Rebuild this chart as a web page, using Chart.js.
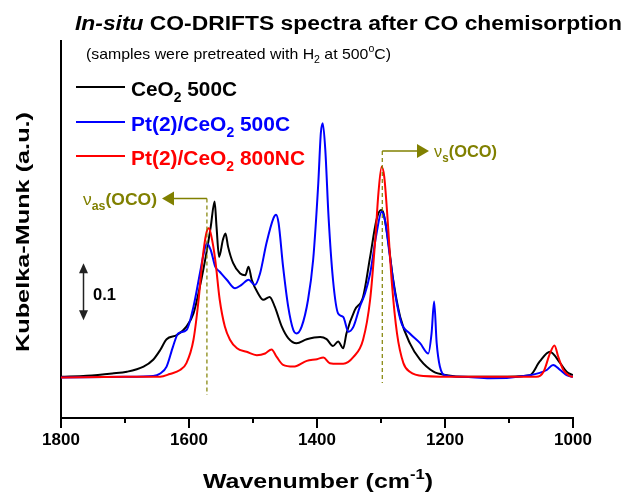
<!DOCTYPE html>
<html>
<head>
<meta charset="utf-8">
<script src="https://cdn.jsdelivr.net/npm/chart.js@4.4.0/dist/chart.umd.min.js"></script>
<style>
html,body{margin:0;padding:0;background:#fff;}
#wrap{width:638px;height:492px;}
</style>
</head>
<body>
<div id="wrap"><canvas id="c" width="638" height="492"></canvas></div>
<script>
// ---- data (wavenumber in cm-1, Kubelka-Munk in a.u.) ----
const wnBlack = [1800,1760,1720,1697,1671,1656,1645,1635,1619,1604,1593,1583,1572,1566,1560,1557,1553,1547,1543,1539,1531,1520,1512,1507,1502,1492,1484,1474,1466,1455,1445,1432,1416,1395,1385,1375,1367,1359,1354,1341,1328,1317,1307,1300,1296,1289,1281,1270,1255,1239,1218,1197,1171,1119,1067,1052,1036,1020,1010,1000];
const kmBlack = [0.072,0.074,0.078,0.081,0.090,0.102,0.119,0.138,0.145,0.160,0.183,0.230,0.294,0.335,0.379,0.335,0.282,0.312,0.323,0.300,0.271,0.253,0.250,0.265,0.242,0.218,0.207,0.212,0.195,0.160,0.140,0.131,0.138,0.142,0.138,0.126,0.134,0.122,0.148,0.189,0.212,0.282,0.347,0.364,0.358,0.312,0.242,0.177,0.131,0.102,0.081,0.075,0.072,0.072,0.075,0.099,0.116,0.096,0.081,0.075];

const wnBlue = [1800,1700,1656,1645,1635,1625,1617,1604,1593,1583,1577,1572,1566,1559,1552,1541,1528,1518,1507,1497,1489,1479,1468,1464,1460,1453,1445,1437,1432,1424,1414,1406,1398,1394,1391,1387,1382,1375,1367,1359,1351,1343,1333,1325,1317,1307,1299,1294,1286,1278,1268,1255,1239,1226,1221,1217,1213,1208,1200,1171,1130,1067,1052,1041,1031,1020,1010,1000];
const kmBlue = [0.071,0.072,0.0735,0.078,0.090,0.125,0.148,0.154,0.195,0.253,0.288,0.306,0.294,0.265,0.256,0.242,0.227,0.233,0.242,0.233,0.253,0.306,0.350,0.356,0.341,0.265,0.195,0.154,0.148,0.160,0.207,0.277,0.411,0.499,0.516,0.469,0.353,0.242,0.183,0.177,0.151,0.160,0.195,0.218,0.253,0.323,0.361,0.347,0.282,0.218,0.166,0.148,0.131,0.113,0.148,0.204,0.131,0.090,0.075,0.072,0.0695,0.075,0.079,0.084,0.093,0.084,0.075,0.072];

const wnRed = [1800,1700,1645,1630,1614,1604,1593,1585,1579,1573,1569,1565,1559,1552,1544,1536,1525,1510,1494,1481,1471,1463,1453,1437,1416,1400,1390,1380,1367,1359,1343,1328,1317,1309,1304,1299,1295,1290,1283,1275,1265,1255,1234,1171,1057,1046,1036,1029,1023,1015,1005,1000];
const kmRed = [0.071,0.072,0.0723,0.077,0.084,0.096,0.137,0.207,0.277,0.323,0.332,0.318,0.277,0.207,0.160,0.137,0.122,0.116,0.110,0.113,0.120,0.107,0.093,0.090,0.100,0.103,0.106,0.096,0.095,0.095,0.107,0.137,0.207,0.312,0.394,0.440,0.423,0.353,0.236,0.148,0.096,0.081,0.0735,0.072,0.072,0.081,0.113,0.127,0.107,0.084,0.0735,0.072];

const seriesNames = ['CeO2 500C','Pt(2)/CeO2 500C','Pt(2)/CeO2 800NC'];
const xTickLabels = [1800,1600,1400,1200,1000];
const xMinorTicks = [1700,1500,1300,1100];
const bandCenters = [1572,1298]; // nu_as(OCO), nu_s(OCO)

const FF = "'Liberation Sans', Arial, Helvetica, sans-serif";
const OLIVE = '#808000';

function pts(w,k){return w.map((x,i)=>({x:x,y:k[i]}));}

function drawRich(ctx, segs, x, y, opt){
  opt = opt||{};
  ctx.save();
  ctx.textBaseline='alphabetic';
  ctx.textAlign='left';
  let nat=0;
  segs.forEach(s=>{ctx.font=s.font; s.w=ctx.measureText(s.t).width; nat+=s.w;});
  const sx = opt.width ? opt.width/nat : 1;
  const tot = nat*sx;
  const x0 = opt.align==='center' ? x-tot/2 : (opt.align==='right'? x-tot : x);
  ctx.translate(x0,y);
  ctx.scale(sx,1);
  let cx=0;
  segs.forEach(s=>{ctx.font=s.font; ctx.fillStyle=s.color||opt.color||'#000'; ctx.fillText(s.t,cx,s.dy||0); cx+=s.w;});
  ctx.restore();
}

function arrowHead(ctx, tipX, tipY, dir, len, half){
  // dir: 'left','right','up','down'
  ctx.beginPath();
  if(dir==='left'){ctx.moveTo(tipX,tipY);ctx.lineTo(tipX+len,tipY-half);ctx.lineTo(tipX+len,tipY+half);}
  if(dir==='right'){ctx.moveTo(tipX,tipY);ctx.lineTo(tipX-len,tipY-half);ctx.lineTo(tipX-len,tipY+half);}
  if(dir==='up'){ctx.moveTo(tipX,tipY);ctx.lineTo(tipX-half,tipY+len);ctx.lineTo(tipX+half,tipY+len);}
  if(dir==='down'){ctx.moveTo(tipX,tipY);ctx.lineTo(tipX-half,tipY-len);ctx.lineTo(tipX+half,tipY-len);}
  ctx.closePath();ctx.fill();
}

const decor = {
  id:'decor',
  afterDraw(chart){
    const ctx = chart.ctx, xs = chart.scales.x, ys = chart.scales.y;
    const bottom = chart.chartArea.bottom;
    ctx.save();
    // x ticks
    ctx.strokeStyle='#000'; ctx.lineWidth=2;
    xTickLabels.forEach(v=>{const px=Math.round(xs.getPixelForValue(v));ctx.beginPath();ctx.moveTo(px,bottom);ctx.lineTo(px,bottom+10);ctx.stroke();});
    xMinorTicks.forEach(v=>{const px=Math.round(xs.getPixelForValue(v));ctx.beginPath();ctx.moveTo(px,bottom);ctx.lineTo(px,bottom+5);ctx.stroke();});

    // titles
    drawRich(ctx,[
      {t:'In-situ',font:'italic bold 20px '+FF},
      {t:' CO-DRIFTS spectra after CO chemisorption',font:'bold 20px '+FF}
    ],75,30,{width:547});
    drawRich(ctx,[
      {t:'(samples were pretreated with H',font:'15px '+FF},
      {t:'2',font:'10px '+FF,dy:4},
      {t:' at 500',font:'15px '+FF},
      {t:'o',font:'10px '+FF,dy:-7},
      {t:'C)',font:'15px '+FF}
    ],86,59,{width:305});

    // axis titles
    drawRich(ctx,[
      {t:'Wavenumber (cm',font:'bold 21px '+FF},
      {t:'-1',font:'bold 14px '+FF,dy:-9},
      {t:')',font:'bold 21px '+FF}
    ],318,488,{align:'center',width:230});
    ctx.save();
    ctx.translate(28.5,232);
    ctx.rotate(-Math.PI/2);
    drawRich(ctx,[{t:'Kubelka-Munk (a.u.)',font:'bold 19px '+FF}],0,0,{align:'center',width:240});
    ctx.restore();

    // legend
    const cols=['#000000','#0000ff','#ff0000'];
    const ly=[87,122,156];
    const lw=[106,159,174];
    seriesNames.forEach((n,i)=>{
      ctx.strokeStyle=cols[i]; ctx.lineWidth=2;
      ctx.beginPath();ctx.moveTo(76,ly[i]);ctx.lineTo(125,ly[i]);ctx.stroke();
      const k=n.indexOf('CeO2');
      drawRich(ctx,[
        {t:n.slice(0,k+3),font:'bold 21px '+FF},
        {t:'2',font:'bold 14px '+FF,dy:6},
        {t:n.slice(k+4),font:'bold 21px '+FF}
      ],131,ly[i]+9,{width:lw[i],color:cols[i]});
    });

    // band annotations
    ctx.fillStyle=OLIVE; ctx.strokeStyle=OLIVE;
    const xa = xs.getPixelForValue(bandCenters[0]);
    const xb = xs.getPixelForValue(bandCenters[1]);
    const ya = 198.5, yb = 151;
    ctx.lineWidth=1.2;
    ctx.setLineDash([4,3]);
    ctx.beginPath();ctx.moveTo(xa,ya);ctx.lineTo(xa,395);ctx.stroke();
    ctx.beginPath();ctx.moveTo(xb,yb);ctx.lineTo(xb,383);ctx.stroke();
    ctx.setLineDash([]);
    ctx.lineWidth=1.5;
    ctx.beginPath();ctx.moveTo(xa,ya);ctx.lineTo(172,ya);ctx.stroke();
    arrowHead(ctx,162,ya,'left',12,7);
    ctx.beginPath();ctx.moveTo(xb,yb);ctx.lineTo(418,yb);ctx.stroke();
    arrowHead(ctx,429,yb,'right',12,7);
    drawRich(ctx,[
      {t:'\u03bd',font:'17px '+FF},
      {t:'as',font:'bold 12px '+FF,dy:5},
      {t:'(OCO)',font:'bold 17px '+FF}
    ],83,205,{width:74,color:OLIVE});
    drawRich(ctx,[
      {t:'\u03bd',font:'17px '+FF},
      {t:'s',font:'bold 12px '+FF,dy:5},
      {t:'(OCO)',font:'bold 17px '+FF}
    ],434,157,{width:63,color:OLIVE});

    // scale bar
    const sTop = ys.getPixelForValue(0.271), sBot = ys.getPixelForValue(0.171);
    ctx.strokeStyle='#222'; ctx.fillStyle='#222'; ctx.lineWidth=1.5;
    ctx.beginPath();ctx.moveTo(83.5,sTop+8);ctx.lineTo(83.5,sBot-8);ctx.stroke();
    arrowHead(ctx,83.5,sTop,'up',10,4.5);
    arrowHead(ctx,83.5,sBot,'down',10,4.5);
    drawRich(ctx,[{t:'0.1',font:'bold 17px '+FF}],93,299.5,{width:23,color:'#000'});
    ctx.restore();
  }
};

new Chart(document.getElementById('c'),{
  type:'line',
  data:{
    datasets:[
      {label:seriesNames[0],data:pts(wnBlack,kmBlack),borderColor:'#000000',borderWidth:2,pointRadius:0,cubicInterpolationMode:'monotone',order:3,fill:false},
      {label:seriesNames[1],data:pts(wnBlue,kmBlue),borderColor:'#0000ff',borderWidth:2,pointRadius:0,cubicInterpolationMode:'monotone',order:2,fill:false},
      {label:seriesNames[2],data:pts(wnRed,kmRed),borderColor:'#ff0000',borderWidth:2,pointRadius:0,cubicInterpolationMode:'monotone',order:1,fill:false}
    ]
  },
  options:{
    responsive:false,
    animation:false,
    devicePixelRatio:1,
    layout:{padding:{left:0,top:41,right:65,bottom:0}},
    plugins:{legend:{display:false},tooltip:{enabled:false},title:{display:false}},
    scales:{
      x:{
        type:'linear',min:1000,max:1800,reverse:true,
        grid:{display:false,drawTicks:false},
        border:{display:true,color:'#000',width:2},
        ticks:{stepSize:200,color:'#000',font:{family:FF,size:17,weight:'bold'},padding:12,maxRotation:0,
          callback:(v)=>xTickLabels.includes(v)?String(v):''},
        afterFit:(s)=>{s.height=74;}
      },
      y:{
        min:0,max:0.66,
        grid:{display:false,drawTicks:false},
        border:{display:true,color:'#000',width:2},
        ticks:{display:false},
        afterFit:(s)=>{s.width=61;}
      }
    }
  },
  plugins:[decor]
});
</script>
</body>
</html>
